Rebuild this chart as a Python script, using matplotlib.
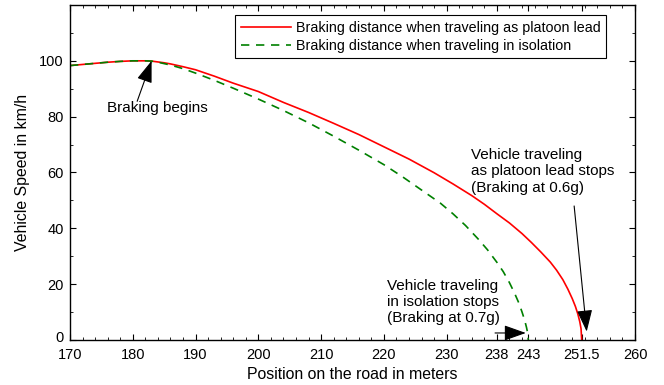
import matplotlib
matplotlib.use("Agg")
import matplotlib.pyplot as plt
from matplotlib.ticker import MultipleLocator
from matplotlib.transforms import ScaledTranslation

plt.rcParams['font.family'] = ['Liberation Sans', 'DejaVu Sans']

# values
lead_x = [170, 172, 174, 176, 178, 180, 182, 183, 184, 185, 186, 188, 190, 193,
          196, 200, 204, 208, 212, 216, 220, 224, 228, 231, 234, 236, 238, 240,
          242, 243.5, 245, 246.5, 247.5, 248.5, 249.3, 250, 250.5, 250.9,
          251.2, 251.4, 251.5]
lead_v = [98.3, 98.7, 99.1, 99.5, 99.8, 100.0, 100.0, 99.9, 99.6, 99.3, 98.9,
          97.9, 96.8, 94.5, 92.0, 89.0, 85.1, 81.5, 77.6, 73.6, 69.2, 64.8,
          59.9, 55.9, 51.7, 48.6, 45.2, 41.9, 38.1, 34.9, 31.5, 27.9, 25.0,
          21.6, 18.2, 14.8, 12.0, 9.2, 6.5, 4.0, 0.0]

iso_x = [170, 172, 174, 176, 178, 180, 182, 183, 184, 185, 186, 188, 190, 193,
         196, 200, 204, 208, 212, 216, 220, 223, 226, 229, 231, 233, 235,
         236.5, 238, 239, 240, 240.8, 241.5, 242, 242.4, 242.7, 242.9, 243]
iso_v = [98.3, 98.7, 99.1, 99.5, 99.8, 100.0, 100.0, 99.9, 99.5, 99.0, 98.5,
         97.2, 95.6, 93.0, 90.2, 86.3, 82.2, 77.8, 73.0, 68.0, 62.8, 58.4,
         53.7, 49.0, 45.2, 41.0, 36.2, 32.3, 27.8, 24.5, 20.5, 16.8, 13.2,
         10.0, 7.2, 4.6, 2.5, 0.0]

xticks = [170, 180, 190, 200, 210, 220, 230, 238, 243, 251.5, 260]
xticklabels = ['170', '180', '190', '200', '210', '220', '230', '238', '243', '251.5', '260']
yticks = [0, 20, 40, 60, 80, 100]

fig = plt.figure(figsize=(6.64, 3.85), dpi=100)
ax = fig.add_axes([0.1054, 0.117, 0.851, 0.870])

ax.plot(lead_x, lead_v, '-', color='#ff0000', lw=1.2,
        label='Braking distance when traveling as platoon lead')
ax.plot(iso_x, iso_v, '--', color='#008000', lw=1.2, dashes=(5, 4),
        label='Braking distance when traveling in isolation')

ax.set_xlim(170, 260)
ax.set_ylim(0, 120)
ax.set_xticks(xticks)
ax.set_xticklabels(xticklabels)
ax.set_yticks(yticks)
ax.xaxis.set_minor_locator(MultipleLocator(2))
ax.yaxis.set_minor_locator(MultipleLocator(10))
ax.tick_params(which='both', direction='in', top=True, right=True, labelsize=10.5)
ax.tick_params(axis='x', pad=5.5)
ax.tick_params(axis='y', pad=4.5)
ax.tick_params(which='major', length=4)
ax.tick_params(which='minor', length=2)
for s in ax.spines.values():
    s.set_linewidth(1.0)

ax.set_xlabel('Position on the road in meters', fontsize=11.4, labelpad=4)
ax.set_ylabel('Vehicle Speed in km/h', fontsize=11.4, labelpad=6.5)

leg = ax.legend(loc='upper right', bbox_to_anchor=(0.949, 0.97), borderaxespad=0,
                fontsize=10.3, fancybox=False, framealpha=1, edgecolor='black',
                handlelength=3.5, handletextpad=0.35, borderpad=0.4,
                labelspacing=0.27)
leg.get_frame().set_linewidth(0.8)

arrow = dict(arrowstyle='-|>,head_length=0.45,head_width=0.16', color='black',
             lw=0.8, mutation_scale=30, shrinkA=0, shrinkB=0)

ax.text(183.9, 83.1, 'Braking begins', ha='center', va='center', fontsize=11)
ax.annotate('', xy=(183.0, 100.0), xytext=(180.7, 85.5), arrowprops=arrow)

ax.text(233.9, 60.4, 'Vehicle traveling\nas platoon lead stops\n(Braking at 0.6g)',
        ha='left', va='center', fontsize=11, linespacing=1.2)
ax.annotate('', xy=(252.3, 3.0), xytext=(250.3, 48.0), arrowprops=arrow)

ax.text(220.5, 13.5, 'Vehicle traveling\nin isolation stops\n(Braking at 0.7g)',
        ha='left', va='center', fontsize=11, linespacing=1.2)
ax.annotate('', xy=(242.6, 2.5), xytext=(237.7, 2.5), arrowprops=arrow)

# nudge the "0" label up a little so it clears the "170" below it
zero = ax.yaxis.get_major_ticks()[0].label1
zero.set_transform(zero.get_transform() + ScaledTranslation(0, 2.5 / 72, fig.dpi_scale_trans))

fig.savefig('out.png', dpi=100)
